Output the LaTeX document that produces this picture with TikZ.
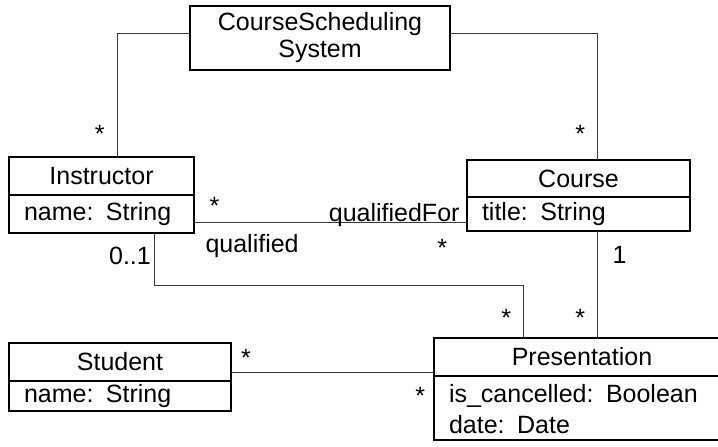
\documentclass[tikz,border=0pt]{standalone}
\usepackage{fontspec}
\setmainfont{Liberation Sans}
\usetikzlibrary{positioning}
\definecolor{ink}{HTML}{000000}
\definecolor{wire}{HTML}{3A3A3A}
\tikzset{
  classname/.style={
    draw=ink,
    line width=1.3pt,
    anchor=north west,
    inner sep=0pt,
    outer sep=0pt,
    font=\fontsize{25}{31}\selectfont
  },
  classattr/.style={
    draw=ink,
    line width=1.3pt,
    anchor=north west,
    align=left,
    inner xsep=15pt,
    inner ysep=0pt,
    outer sep=0pt,
    font=\fontsize{25}{31}\selectfont
  },
  assoc/.style={
    draw=wire,
    line width=1pt
  },
  mult/.style={
    inner sep=2pt,
    font=\fontsize{25}{31}\selectfont
  }
}
\begin{document}
\begin{tikzpicture}[x=1pt, y=-1pt]
  \clip (0,0) rectangle (718,447);
  \fill[white] (0,0) rectangle (718,447);

  % classes
  \node[classname, minimum width=260pt, minimum height=64pt, align=center]
    (sys) at (190,6) {CourseScheduling\\[-4pt]System};
  \node[classname, minimum width=185pt, minimum height=38pt]
    (instr) at (9,157) {Instructor};
  \node[classattr, text width=155pt, minimum height=38pt]
    (instrattr) at (instr.south west) {name: String};
  \node[classname, minimum width=223pt, minimum height=37pt]
    (course) at (467,160) {Course};
  \node[classattr, text width=193pt, minimum height=34pt]
    (courseattr) at (course.south west) {title: String};
  \node[classname, minimum width=222pt, minimum height=38pt]
    (student) at (9,343) {Student};
  \node[classattr, text width=192pt, minimum height=30pt]
    (studentattr) at (student.south west) {name: String};
  \node[classname, minimum width=296pt, minimum height=38pt]
    (pres) at (434,338) {Presentation};
  \node[classattr, text width=266pt, inner ysep=8pt, text depth=30pt]
    (presattr) at (pres.south west) {is\_cancelled: Boolean\\date: Date};

  % associations
  \draw[assoc] ([yshift=5pt]sys.west) -| ([xshift=15.5pt]instr.north)
    node[mult, pos=1, anchor=base east, xshift=-10pt, yshift=15pt] {*};
  \draw[assoc] ([yshift=5pt]sys.east) -| ([xshift=18.5pt]course.north)
    node[mult, pos=1, anchor=base east, xshift=-9.5pt, yshift=18pt] {*};
  \draw[assoc] ([yshift=-8pt]instrattr.east) -- ([yshift=-8pt]courseattr.west)
    node[mult, pos=0, anchor=base west, xshift=13pt, yshift=8pt] {*}
    node[mult, pos=1, anchor=base east, xshift=-5pt, yshift=1pt] {qualifiedFor}
    node[mult, pos=0, anchor=base west, xshift=9pt, yshift=-30pt] {qualified}
    node[mult, pos=1, anchor=base east, xshift=-17.5pt, yshift=-34pt] {*};
  \draw[assoc] ([xshift=52.5pt]instrattr.south) -- ++(0,52)
    -| ([xshift=-59pt]pres.north)
    node[mult, pos=1, anchor=base east, xshift=-9.5pt, yshift=12pt] {*};
  \node[mult, anchor=base east] (zeroone) at ([xshift=-1pt, yshift=-31pt]instrattr.south -| 154,0) {0..1};
  \draw[assoc] ([xshift=18.5pt]courseattr.south) -- ([xshift=15pt]pres.north)
    node[mult, pos=0, anchor=base west, xshift=13pt, yshift=-32pt] {1}
    node[mult, pos=1, anchor=base east, xshift=-9.5pt, yshift=12pt] {*};
  \draw[assoc] ([yshift=-10pt]student.east) coordinate (s1) -- (s1 -| pres.west)
    node[mult, pos=0, anchor=base west, xshift=7.5pt, yshift=6pt] {*}
    node[mult, pos=1, anchor=base east, xshift=-6.5pt, yshift=-32pt] {*};
\end{tikzpicture}
\end{document}
